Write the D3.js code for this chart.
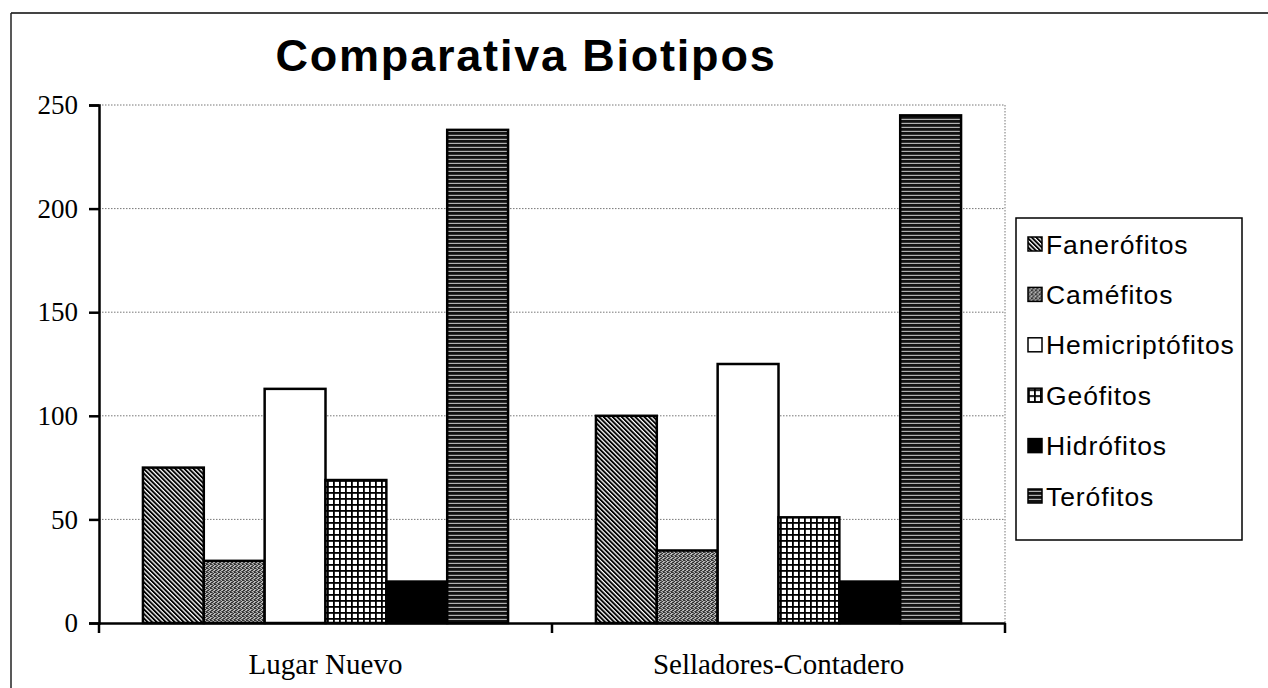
<!DOCTYPE html>
<html><head><meta charset="utf-8">
<script src="https://cdn.jsdelivr.net/npm/d3@7"></script>
<style>body{margin:0;background:#fff}svg{display:block}</style>
</head><body>
<svg id="chart" width="1268" height="688"></svg>
<script>
const categories = ["Lugar Nuevo", "Selladores-Contadero"];
const seriesNames = ["Fanerófitos", "Caméfitos", "Hemicriptófitos", "Geófitos", "Hidrófitos", "Terófitos"];
const lugarNuevo = [75, 30, 113, 69, 20, 238];
const selladores = [100, 35, 125, 51, 20, 245];
const yTicks = [0, 50, 100, 150, 200, 250];
const title = "Comparativa Biotipos";

(function(){
const svg = d3.select("#chart");
const defs = svg.append("defs");

const pFan = defs.append("pattern").attr("id","p0").attr("patternUnits","userSpaceOnUse")
  .attr("width",3.2).attr("height",10).attr("patternTransform","rotate(-45)");
pFan.append("rect").attr("width",3.2).attr("height",10).attr("fill","#fff");
pFan.append("rect").attr("width",1.9).attr("height",10).attr("fill","#000");

const pCam = defs.append("pattern").attr("id","p1").attr("patternUnits","userSpaceOnUse")
  .attr("width",4).attr("height",4);
pCam.append("rect").attr("width",4).attr("height",4).attr("fill","#b8b8b8");
[[0,0],[2,1],[1,2],[3,3],[3,0],[0,2]].forEach(([x,y])=>pCam.append("rect").attr("x",x).attr("y",y).attr("width",1).attr("height",1).attr("fill","#333"));
[[1,0],[0,3],[2,3],[1,1]].forEach(([x,y])=>pCam.append("rect").attr("x",x).attr("y",y).attr("width",1).attr("height",1).attr("fill","#6a6a6a"));

const pGeo = defs.append("pattern").attr("id","p3").attr("patternUnits","userSpaceOnUse")
  .attr("width",6).attr("height",6);
pGeo.append("rect").attr("width",6).attr("height",6).attr("fill","#fff");
pGeo.append("rect").attr("width",6).attr("height",1.8).attr("fill","#000");
pGeo.append("rect").attr("width",1.8).attr("height",6).attr("fill","#000");

const pTer = defs.append("pattern").attr("id","p5").attr("patternUnits","userSpaceOnUse")
  .attr("width",10).attr("height",4);
pTer.append("rect").attr("width",10).attr("height",4).attr("fill","#b0b0b0");
pTer.append("rect").attr("width",10).attr("height",2.8).attr("fill","#111");

const fills = ["url(#p0)","url(#p1)","#fff","url(#p3)","#000","url(#p5)"];

svg.append("line").attr("x1",11).attr("x2",1268).attr("y1",13).attr("y2",13).attr("stroke","#444").attr("stroke-width",2);
svg.append("line").attr("x1",11).attr("x2",11).attr("y1",13).attr("y2",688).attr("stroke","#222").attr("stroke-width",1.5);

svg.append("text").attr("x",526).attr("y",71).attr("text-anchor","middle")
  .attr("font-family","Liberation Sans, Arial, sans-serif").attr("font-weight","bold")
  .attr("font-size",45).attr("letter-spacing",1.8).attr("fill","#000").text(title);

const pLeft = 99, pRight = 1005, pTop = 105, pBottom = 623;
const y = d3.scaleLinear().domain([0,250]).range([pBottom, pTop]);
const x0 = d3.scaleBand().domain(categories).range([pLeft, pRight]).padding(0);
const step = x0.bandwidth();
const x1 = d3.scaleBand().domain(seriesNames).range([0.097*step, 0.903*step]).padding(0);

const g = svg.append("g");
g.selectAll("line.grid").data(yTicks.filter(d=>d>0)).enter().append("line")
  .attr("x1",pLeft).attr("x2",pRight).attr("y1",d=>y(d)).attr("y2",d=>y(d))
  .attr("stroke","#777").attr("stroke-width",1).attr("stroke-dasharray","1.5,1.5");
g.append("line").attr("x1",pRight).attr("x2",pRight).attr("y1",pTop).attr("y2",pBottom)
  .attr("stroke","#777").attr("stroke-width",1).attr("stroke-dasharray","1.5,1.5");

const data = categories.map((c,i)=>({cat:c, vals:(i===0?lugarNuevo:selladores)}));
const groups = svg.append("g").selectAll("g").data(data).enter().append("g")
  .attr("transform",d=>`translate(${x0(d.cat)},0)`);
groups.selectAll("rect").data(d=>d.vals.map((v,i)=>({name:seriesNames[i], v, i}))).enter().append("rect")
  .attr("x",d=>x1(d.name)).attr("width",x1.bandwidth())
  .attr("y",d=>y(d.v)).attr("height",d=>y(0)-y(d.v))
  .attr("fill",d=>fills[d.i]).attr("stroke","#000").attr("stroke-width",2.5);

const yAxis = d3.axisLeft(y).tickValues(yTicks).tickSize(10).tickPadding(11).tickFormat(d3.format("d"));
const ya = svg.append("g").attr("transform",`translate(${pLeft},0)`).call(yAxis);
ya.select(".domain").attr("stroke","#000").attr("stroke-width",2.5);
ya.selectAll(".tick line").attr("stroke","#000").attr("stroke-width",2.5);
ya.selectAll(".tick text").attr("font-family","Liberation Serif, Times New Roman, serif").attr("font-size",27).attr("fill","#000");

const xAxis = d3.axisBottom(x0).tickSize(0).tickPadding(30);
const xa = svg.append("g").attr("transform",`translate(0,${pBottom})`).call(xAxis);
xa.select(".domain").attr("stroke","#000").attr("stroke-width",2.5);
xa.selectAll(".tick text").attr("font-family","Liberation Serif, Times New Roman, serif").attr("font-size",29).attr("fill","#000");
const bounds = [pLeft, ...categories.slice(1).map(c=>x0(c)), pRight];
xa.selectAll("line.bt").data(bounds).enter().append("line")
  .attr("x1",d=>d).attr("x2",d=>d).attr("y1",0).attr("y2",10).attr("stroke","#000").attr("stroke-width",2.5);

const lg = svg.append("g");
lg.append("rect").attr("x",1016).attr("y",218).attr("width",226).attr("height",322)
  .attr("fill","#fff").attr("stroke","#000").attr("stroke-width",1.5);
const ly = d3.scalePoint().domain(seriesNames).range([244, 496]);
const items = lg.selectAll("g.item").data(seriesNames).enter().append("g")
  .attr("transform",d=>`translate(1028,${ly(d)})`);
items.append("rect").attr("x",0).attr("y",-7).attr("width",14).attr("height",14)
  .attr("fill",(d,i)=>fills[i]).attr("stroke","#000").attr("stroke-width",1.5);
items.append("text").attr("x",18).attr("y",9.5).attr("font-family","Liberation Sans, Arial, sans-serif")
  .attr("font-size",26.5).attr("letter-spacing",0.9).attr("fill","#000").text(d=>d);
})();
</script>
</body></html>
